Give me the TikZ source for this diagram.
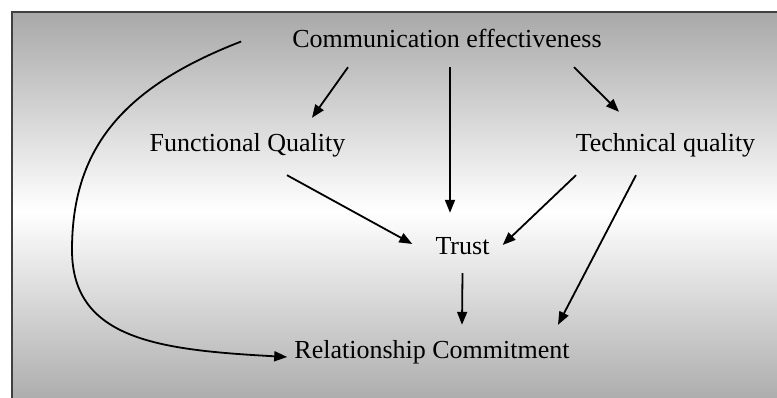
\documentclass[tikz,border=0pt]{standalone}
\usepackage{fontspec}
\setmainfont{Liberation Serif}
\usetikzlibrary{arrows.meta}
\definecolor{bggray}{gray}{0.66}
\definecolor{framegray}{gray}{0.25}

\begin{document}
\begin{tikzpicture}[
    x=1pt, y=1pt,
    font=\fontsize{26}{31}\selectfont,
    lbl/.style={
      anchor=base, inner sep=0pt,
      text height=18pt, text depth=5pt
    },
    arr/.style={-{Triangle[length=13pt,width=10pt]}, line width=1.8pt}
  ]

  % ===== Canvas =====
  \path[use as bounding box, clip] (0,0) rectangle (777,-398);
  \fill[white] (0,0) rectangle (777,-398);
  \shade[top color=bggray, bottom color=bggray, middle color=white]
    (12,-12) rectangle (790,-410);
  \draw[framegray, line width=2pt] (790,-12) -- (12,-12) -- (12,-410);

  % ===== Constructs =====
  \node[lbl] (comm)  at (447,-48)   {Communication effectiveness};
  \node[lbl] (func)  at (247.5,-152) {Functional Quality};
  \node[lbl] (tech)  at (665.5,-152) {Technical quality};
  \node[lbl] (trust) at (462.5,-255) {Trust};
  \node[lbl] (commit) at (432,-359) {Relationship Commitment};

  % Connections
  \draw[arr] ([xshift=-99pt,yshift=-14pt]comm.south) -- ([xshift=64.5pt,yshift=16pt]func.north);
  \draw[arr] ([xshift=3pt,yshift=-14pt]comm.south)   -- ([xshift=-12.5pt,yshift=24pt]trust.north);
  \draw[arr] ([xshift=127pt,yshift=-14pt]comm.south) -- ([xshift=-46.5pt,yshift=22pt]tech.north);
  \draw[arr] ([xshift=39.5pt,yshift=-18pt]func.south) -- ([xshift=-23pt,yshift=4.5pt]trust.west);
  \draw[arr] ([xshift=-89.5pt,yshift=-18pt]tech.south) -- ([xshift=13pt,yshift=3.5pt]trust.east);
  \draw[arr] ([xshift=-29.5pt,yshift=-18pt]tech.south) -- ([xshift=126pt,yshift=16pt]commit.north);
  \draw[arr] ([yshift=-13pt]trust.south) -- ([xshift=30pt,yshift=16pt]commit.north);
  \draw[arr] ([xshift=-51pt]comm.west)
    .. controls (121,-88) and (72,-150) .. (72,-250)
    .. controls (72,-340) and (160,-350) .. ([xshift=-7pt,yshift=-4.5pt]commit.west);
\end{tikzpicture}
\end{document}
